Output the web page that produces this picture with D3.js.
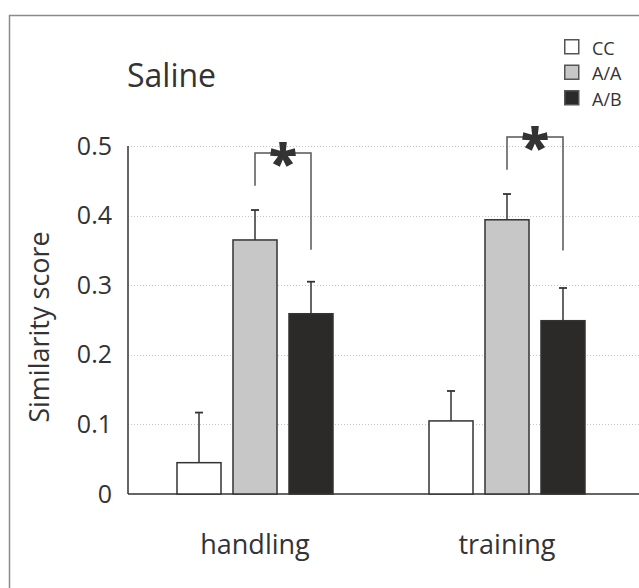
<!DOCTYPE html>
<html>
<head>
<meta charset="utf-8">
<script src="https://cdn.jsdelivr.net/npm/d3@7"></script>
<style>
  html, body { margin: 0; padding: 0; background: #fff; }
  svg { display: block; }
  text { font-family: "Open Sans", "Noto Sans", sans-serif; fill: #333; }
</style>
</head>
<body>
<div id="chart"></div>
<script>
// Conditions on the x axis and the three groups drawn inside each
const conditions = ["handling", "training"];
const groups = ["CC", "A/A", "A/B"];
const groupFills = ["#ffffff", "#c6c7c6", "#2b2a29"];

// Mean similarity score and error (upper whisker) per condition, in group order
const handlingMeans = [0.045, 0.365, 0.259];
const handlingErrors = [0.072, 0.043, 0.046];
const trainingMeans = [0.105, 0.394, 0.249];
const trainingErrors = [0.043, 0.037, 0.047];

// Y axis ticks
const yTicks = [0, 0.1, 0.2, 0.3, 0.4, 0.5];
const yTickLabels = ["0", "0.1", "0.2", "0.3", "0.4", "0.5"];

// Significance brackets between A/A and A/B: top level and the two leg ends
const bracketTop = [0.490, 0.513];
const bracketLeftEnd = [0.443, 0.466];
const bracketRightEnd = [0.351, 0.350];

const means = [handlingMeans, trainingMeans];
const errors = [handlingErrors, trainingErrors];

const W = 639, H = 588;
const svg = d3.select("#chart").append("svg").attr("width", W).attr("height", H);

// Panel frame (only its left and top edges fall inside the view)
svg.append("path")
  .attr("d", `M9.5,${H + 5} L9.5,15.5 L${W + 5},15.5`)
  .attr("fill", "none").attr("stroke", "#8a8a8a").attr("stroke-width", 1.5);

const axisX = 128, baseY = 494;
const y = d3.scaleLinear().domain([0, 0.5]).range([baseY, 146]);
const x0 = d3.scaleBand().domain(conditions).range([129, 633]).paddingInner(0).paddingOuter(0);
const x1 = d3.scaleBand().domain(groups).range([48, 204]).paddingInner(0.214).paddingOuter(0);

// Dotted gridlines
svg.append("g").selectAll("line").data(yTicks.filter(d => d > 0)).join("line")
  .attr("x1", axisX).attr("x2", W)
  .attr("y1", d => Math.round(y(d)) + 0.5).attr("y2", d => Math.round(y(d)) + 0.5)
  .attr("stroke", "#c4c4c4").attr("stroke-width", 1).attr("stroke-dasharray", "1,2");

// Y axis with large tick labels and no tick marks
const yAxis = d3.axisLeft(y).tickValues(yTicks).tickSize(0).tickPadding(16)
  .tickFormat((d, i) => yTickLabels[i]);
const gy = svg.append("g").attr("transform", `translate(${axisX},0)`).call(yAxis);
gy.select(".domain").attr("stroke", "#333").attr("stroke-width", 1.5)
  .attr("d", `M0,${y(0.5)}V${baseY}`);
gy.selectAll(".tick text").attr("font-size", 25).attr("fill", "#333")
  .attr("font-family", "'Open Sans', sans-serif");

// Baseline
svg.append("line").attr("x1", axisX).attr("x2", W).attr("y1", baseY).attr("y2", baseY)
  .attr("stroke", "#333").attr("stroke-width", 1.5);

// Bars and error whiskers
const rows = [];
conditions.forEach((c, ci) => groups.forEach((g, gi) => {
  rows.push({ c, g, gi, v: means[ci][gi], e: errors[ci][gi] });
}));

const barG = svg.append("g");
barG.selectAll("line.err").data(rows).join("line").attr("class", "err")
  .attr("x1", d => x0(d.c) + x1(d.g) + x1.bandwidth() / 2)
  .attr("x2", d => x0(d.c) + x1(d.g) + x1.bandwidth() / 2)
  .attr("y1", d => y(d.v)).attr("y2", d => y(d.v + d.e))
  .attr("stroke", "#333").attr("stroke-width", 1.5);
barG.selectAll("line.cap").data(rows).join("line").attr("class", "cap")
  .attr("x1", d => x0(d.c) + x1(d.g) + x1.bandwidth() / 2 - 4)
  .attr("x2", d => x0(d.c) + x1(d.g) + x1.bandwidth() / 2 + 4)
  .attr("y1", d => y(d.v + d.e)).attr("y2", d => y(d.v + d.e))
  .attr("stroke", "#333").attr("stroke-width", 1.8);
barG.selectAll("rect").data(rows).join("rect")
  .attr("x", d => x0(d.c) + x1(d.g))
  .attr("width", x1.bandwidth())
  .attr("y", d => y(d.v))
  .attr("height", d => baseY - y(d.v))
  .attr("fill", d => groupFills[d.gi])
  .attr("stroke", "#333").attr("stroke-width", 1.5);

// Significance brackets with asterisk
conditions.forEach((c, ci) => {
  const xl = x0(c) + x1("A/A") + x1.bandwidth() / 2;
  const xr = x0(c) + x1("A/B") + x1.bandwidth() / 2;
  const yt = y(bracketTop[ci]);
  const xm = (xl + xr) / 2;
  const g = svg.append("g").attr("fill", "none").attr("stroke", "#555").attr("stroke-width", 1.5);
  g.append("path").attr("d", `M${xl},${y(bracketLeftEnd[ci])}V${yt}H${xm - 11}`);
  g.append("path").attr("d", `M${xm + 11},${yt}H${xr}V${y(bracketRightEnd[ci])}`);
  svg.append("text").attr("x", xm).attr("y", yt + 28)
    .attr("text-anchor", "middle").attr("font-size", 52).attr("font-weight", 800)
    .attr("fill", "#333").text("*");
});

// X category labels
svg.append("g").selectAll("text").data(conditions).join("text")
  .attr("x", d => x0(d) + x0.bandwidth() / 2).attr("y", 554)
  .attr("text-anchor", "middle").attr("font-size", 27).text(d => d);

// Y axis title
svg.append("text").attr("transform", "translate(49,327) rotate(-90)")
  .attr("text-anchor", "middle").attr("font-size", 27).text("Similarity score");

// Panel title
svg.append("text").attr("x", 127).attr("y", 87).attr("font-size", 32).text("Saline");

// Legend
const lg = svg.append("g").attr("transform", "translate(564,39)");
groups.forEach((g, i) => {
  lg.append("rect").attr("x", 0.75).attr("y", i * 25.5 + 0.75).attr("width", 14).attr("height", 14)
    .attr("fill", groupFills[i]).attr("stroke", "#555").attr("stroke-width", 1.5);
  lg.append("text").attr("x", 28).attr("y", i * 25.5 + 15.5).attr("font-size", 18).text(g);
});
</script>
</body>
</html>
